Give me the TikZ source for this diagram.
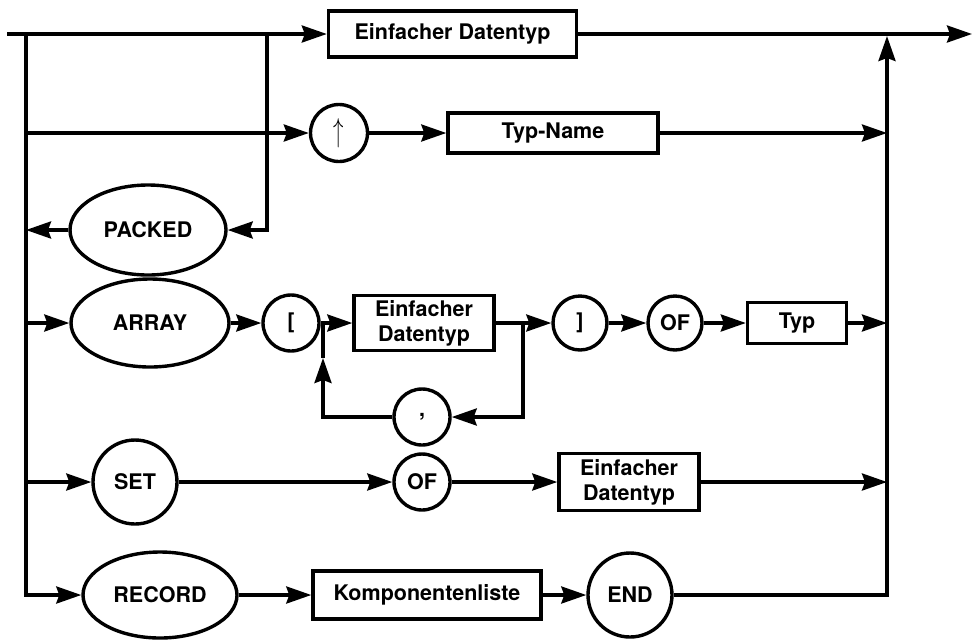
\documentclass[tikz,border=0pt]{standalone}
\usepackage{fontspec}
\setmainfont{TeX Gyre Heros}
\usetikzlibrary{arrows.meta,shapes.geometric}
\newcommand{\lab}{\bfseries\fontsize{21.5}{25}\selectfont}
\begin{document}
\begin{tikzpicture}[x=1pt,y=-1pt,line width=3.4pt,
  box/.style={draw,rectangle,inner sep=0pt,align=center,font=\lab},
  rnd/.style={draw,circle,inner sep=0pt,font=\lab},
  ovl/.style={draw,ellipse,inner sep=0pt,font=\lab},
  arr/.style={-{Stealth[length=25pt,width=17pt,inset=3pt]}}]
\useasboundingbox (0,0) rectangle (977,641);
% coordinates
\coordinate (start) at (7,34);
\coordinate (fin) at (972,34);
\coordinate (LT) at (26,34);
\coordinate (IT) at (267,34);
\coordinate (RT) at (887,36);
\coordinate (L2) at (26,133);
\coordinate (R2) at (887,133);
\coordinate (L4) at (26,323);
\coordinate (R4) at (887,323);
\coordinate (L5) at (26,482);
\coordinate (R5) at (887,482);
\coordinate (jL) at (323,323);
\coordinate (jR) at (523,323);
\coordinate (jUp) at (323,358);
% nodes
\node[box,minimum width=248pt,minimum height=46pt] (E1) at (452.5,34) {Einfacher Datentyp};
\node[rnd,minimum size=57pt] (up) at (339,133) {\normalfont\scalebox{1}[1.6]{$\uparrow$}};
\node[box,minimum width=210pt,minimum height=40pt] (tn) at (553,133) {Typ-Name};
\node[ovl,minimum width=156pt,minimum height=90pt] (packed) at (148,230) {PACKED};
\node[ovl,minimum width=158pt,minimum height=88pt] (array) at (150,323) {ARRAY};
\node[rnd,minimum size=56pt] (lbr) at (291,323) {[};
\node[box,minimum width=140pt,minimum height=55pt] (E2) at (424,323) {Einfacher\\Datentyp};
\node[rnd,minimum size=56pt] (comma) at (422,417) {,};
\node[rnd,minimum size=54pt] (rbr) at (580,323) {]};
\node[rnd,minimum size=54pt] (of1) at (675,323) {OF};
\node[box,minimum width=99pt,minimum height=41pt] (typ) at (797,323) {Typ};
\node[rnd,minimum size=84pt] (set) at (135,482) {SET};
\node[rnd,minimum size=56pt] (of2) at (422,482) {OF};
\node[box,minimum width=140pt,minimum height=57pt] (E3) at (629,482) {Einfacher\\Datentyp};
\node[ovl,minimum width=154pt,minimum height=86pt] (record) at (160,595) {RECORD};
\node[box,minimum width=228pt,minimum height=48pt] (komp) at (427,595) {Komponentenliste};
\node[rnd,minimum size=84pt] (end) at (630,595) {END};
% connectors
\draw[arr] (start) -- (E1.west);
\draw[arr] (E1.east) -- (fin);
\draw[arr] (LT) |- (record.west);
\draw[arr] (IT) |- (packed.east);
\draw[arr] (packed.west) -- (L4 |- packed.west);
\draw[arr] (L2) -- (up.west);
\draw[arr] (up.east) -- (tn.west);
\draw[arr] (tn.east) -- (R2);
\draw[arr] (L4) -- (array.west);
\draw[arr] (array.east) -- (lbr.west);
\draw[arr] (lbr.east) -- (E2.west);
\draw (E2.east) -- (jR);
\draw[arr] (jR) -- (rbr.west);
\draw[arr] (jR) |- (comma.east);
\draw[arr] (comma.west) -| (jUp);
\draw (jUp) -- (jL);
\draw[arr] (rbr.east) -- (of1.west);
\draw[arr] (of1.east) -- (typ.west);
\draw[arr] (typ.east) -- (R4);
\draw[arr] (L5) -- (set.west);
\draw[arr] (set.east) -- (of2.west);
\draw[arr] (of2.east) -- (E3.west);
\draw[arr] (E3.east) -- (R5);
\draw[arr] (record.east) -- (komp.west);
\draw[arr] (komp.east) -- (end.west);
\draw[arr] (end.east) -| (RT);
\end{tikzpicture}
\end{document}
